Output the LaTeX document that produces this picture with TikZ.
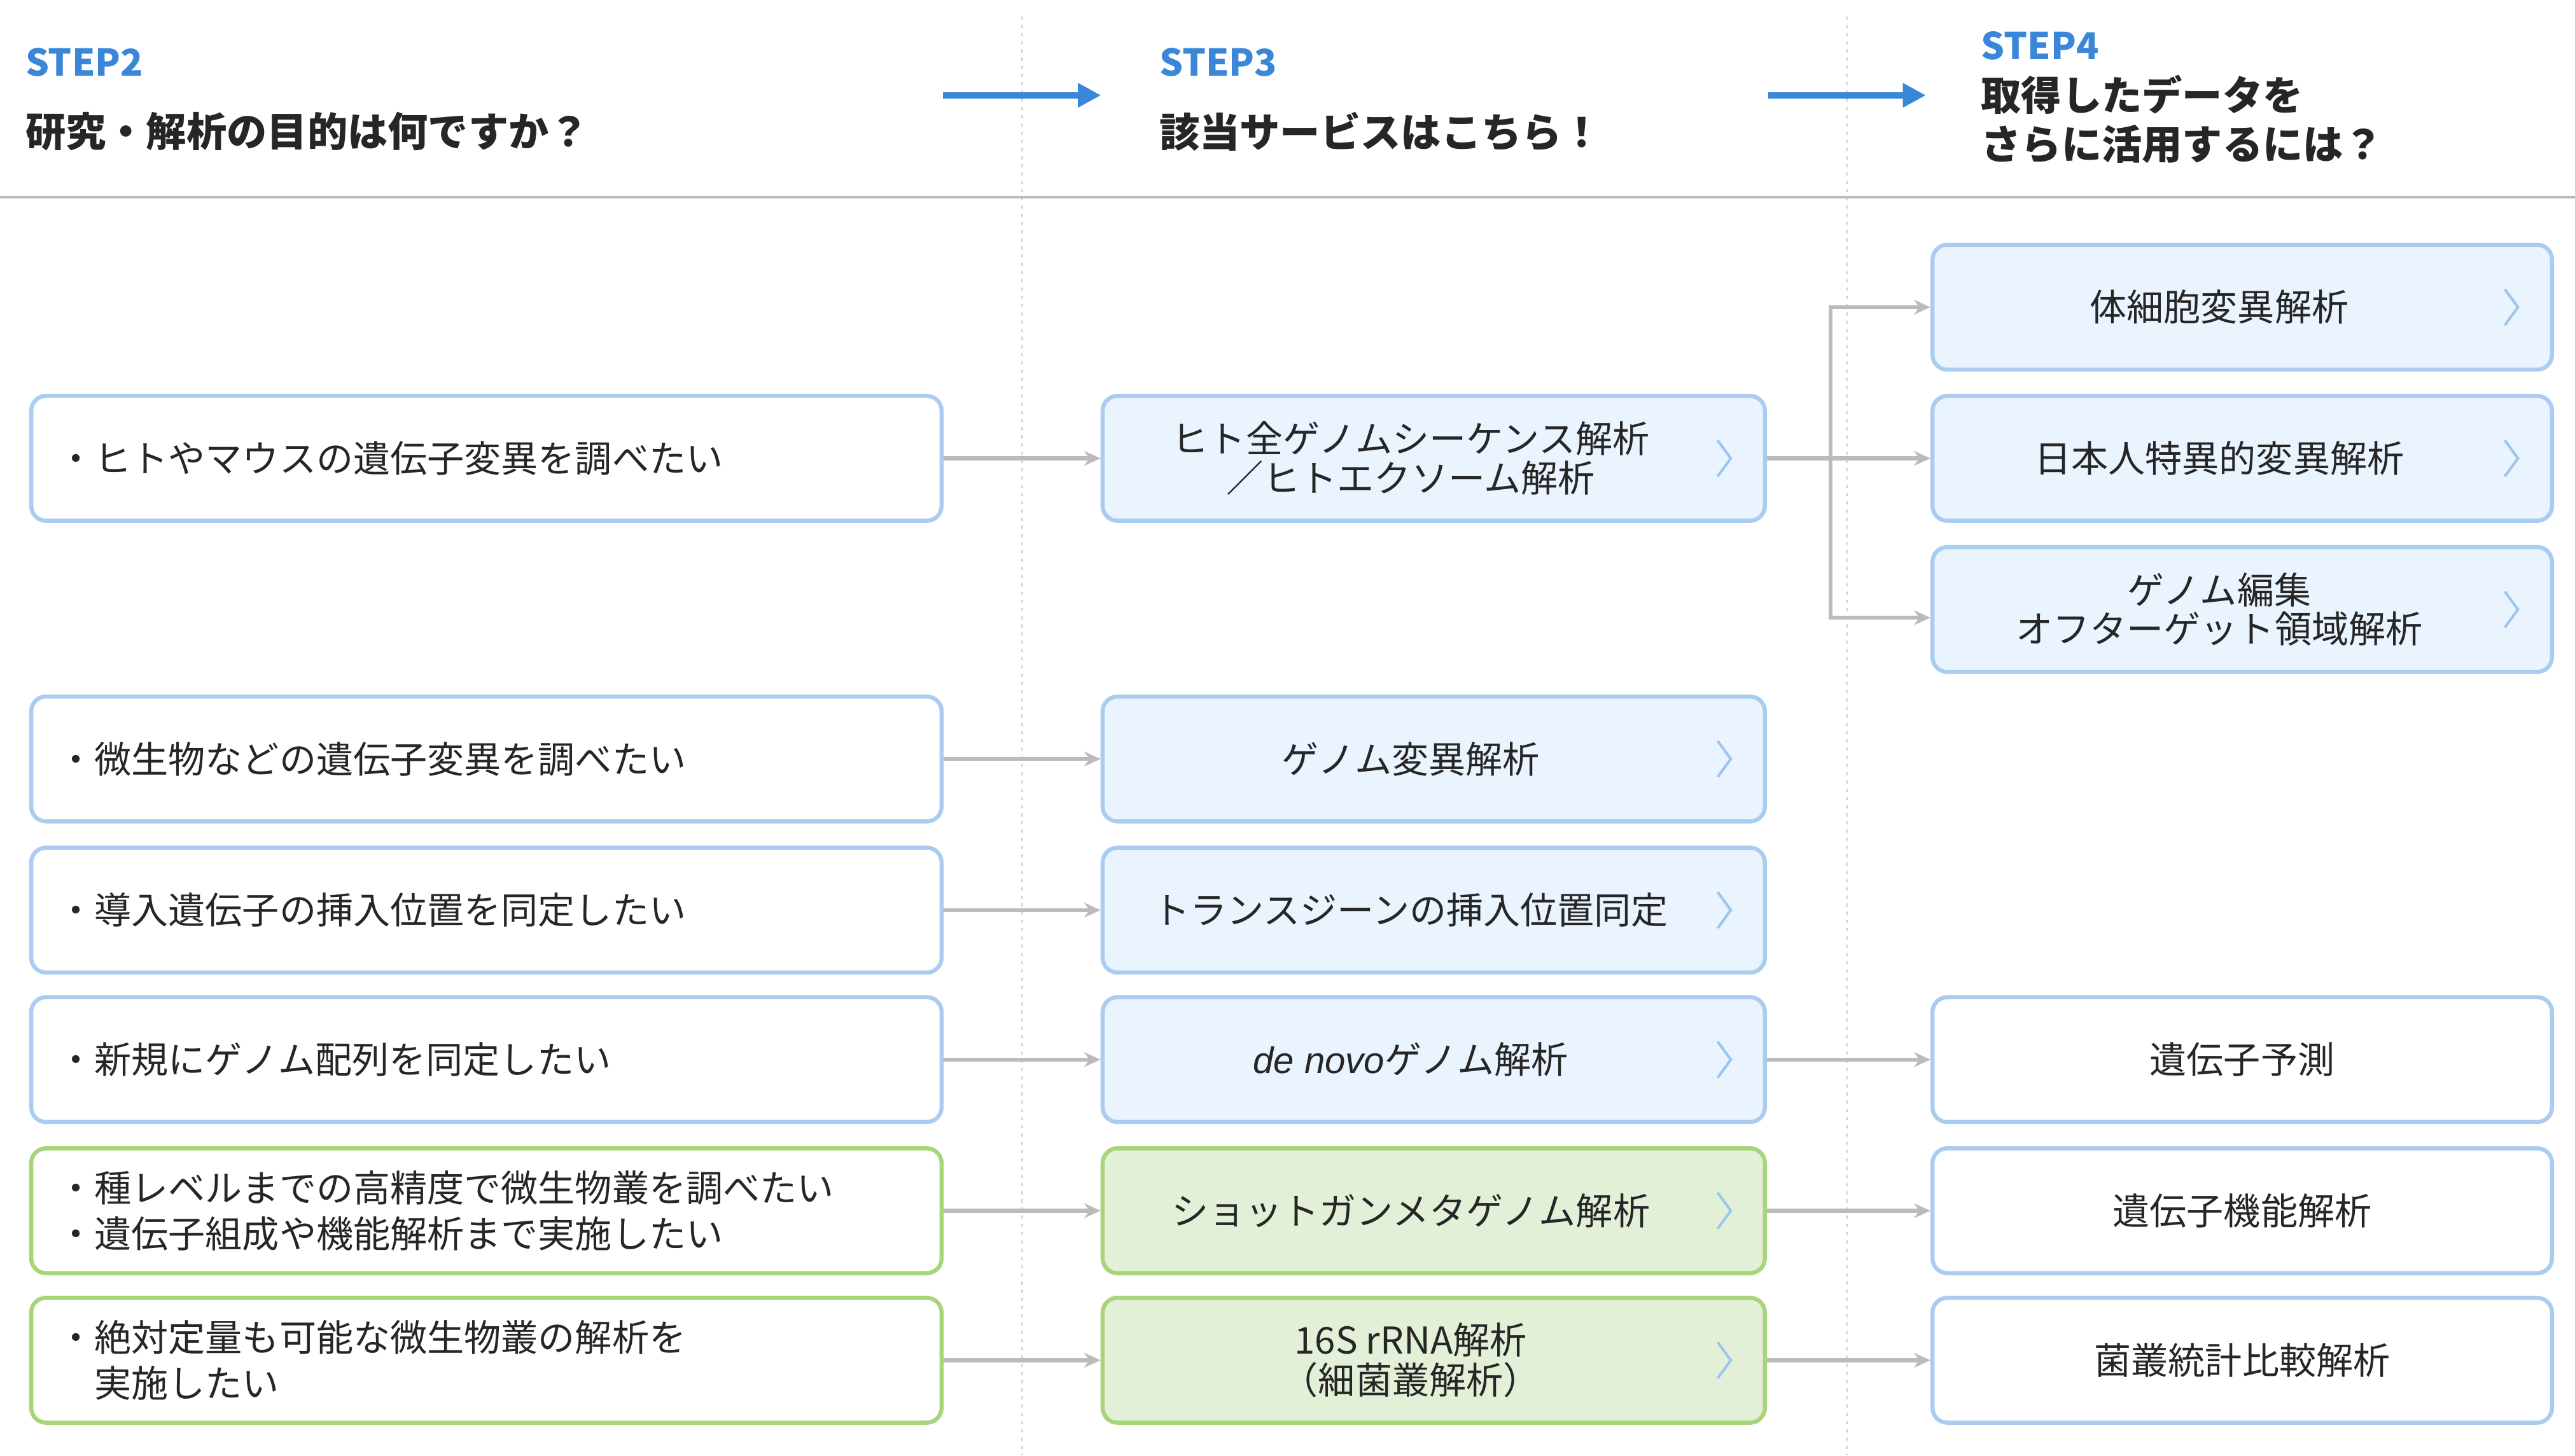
\documentclass[tikz,border=0pt]{standalone}
\usepackage{fontspec}
\setmainfont{Noto Sans CJK JP}
\newfontfamily\latinit{Liberation Sans}
\usetikzlibrary{arrows.meta,calc}
\definecolor{bluebd}{HTML}{A9CCF0}
\definecolor{bluefill}{HTML}{EAF4FE}
\definecolor{greenbd}{HTML}{A8D47A}
\definecolor{greenfill}{HTML}{E3F0D8}
\definecolor{stepblue}{HTML}{3A86D8}
\definecolor{conn}{HTML}{BBBBBB}
\definecolor{chev}{HTML}{9EC5EC}
\begin{document}
\begin{tikzpicture}[x=1pt,y=-1pt,
  every node/.style={font=\fontsize{22.5}{28}\selectfont, text=black!85},
  box/.style={draw, rounded corners=9pt, line width=2.5pt, minimum height=76pt, align=center, inner sep=0pt},
  lbox/.style={box, draw=bluebd, fill=white, minimum width=554pt, text width=522pt, align=left},
  lgbox/.style={lbox, draw=greenbd},
  mbox/.style={box, draw=bluebd, fill=bluefill, minimum width=403pt},
  mgbox/.style={box, draw=greenbd, fill=greenfill, minimum width=403pt},
  rbox/.style={box, draw=bluebd, fill=bluefill, minimum width=377pt},
  rwbox/.style={box, draw=bluebd, fill=white, minimum width=377pt},
  conn/.style={draw=conn, line width=2.5pt, -{Stealth[length=10pt,width=9pt]}},
  chevron/.style={draw=chev, line width=1.6pt},
  hdr/.style={anchor=west, font=\fontsize{24.5}{30}\selectfont\bfseries},
  steplbl/.style={hdr, text=stepblue, font=\fontsize{22.5}{28}\selectfont\bfseries},
  bigarrow/.style={draw=stepblue, line width=4pt, -{Triangle[length=14pt,width=14pt]}}
]
\useasboundingbox (0,0) rectangle (1567,886);
% dotted columns
\draw[gray!30, line width=1.2pt, dash pattern=on 2pt off 3pt] (622,10) -- (622,886);
\draw[gray!30, line width=1.2pt, dash pattern=on 2pt off 3pt] (1124,10) -- (1124,886);
\draw[gray!55, line width=1.5pt] (0,120) -- (1567,120);
% header
\node[steplbl] (s2) at (12,38) {STEP2};
\node[hdr] (h2) at (12,80) {研究・解析の目的は何ですか？};
\node[steplbl] (s3) at (702,38) {STEP3};
\node[hdr] (h3) at (702,80) {該当サービスはこちら！};
\node[steplbl] (s4) at (1202,28) {STEP4};
\node[hdr, align=left, anchor=north west] (h4) at (1202,42) {取得したデータを\\さらに活用するには？};
\coordinate (a1s) at (574,58); \coordinate (a1e) at (670,58);
\coordinate (a2s) at (1076,58); \coordinate (a2e) at (1172,58);
\draw[bigarrow] (a1s) -- (a1e);
\draw[bigarrow] (a2s) -- (a2e);
% left
\node[lbox] (l1) at (296,279) {・ヒトやマウスの遺伝子変異を調べたい};
\node[lbox] (l2) at (296,462) {・微生物などの遺伝子変異を調べたい};
\node[lbox] (l3) at (296,554) {・導入遺伝子の挿入位置を同定したい};
\node[lbox] (l4) at (296,645) {・新規にゲノム配列を同定したい};
\node[lgbox] (l5) at (296,737) {・種レベルまでの高精度で微生物叢を調べたい\\・遺伝子組成や機能解析まで実施したい};
\node[lgbox] (l6) at (296,828) {・絶対定量も可能な微生物叢の解析を\\\hspace*{1em}実施したい};
% middle
\node[mbox] (m1) at (872.5,279) {\hspace*{-28pt}\shortstack{ヒト全ゲノムシーケンス解析\\／ヒトエクソーム解析}};
\node[mbox] (m2) at (872.5,462) {\hspace*{-28pt}ゲノム変異解析};
\node[mbox] (m3) at (872.5,554) {\hspace*{-28pt}トランスジーンの挿入位置同定};
\node[mbox] (m4) at (872.5,645) {\hspace*{-28pt}{\latinit\itshape de novo}ゲノム解析};
\node[mgbox] (m5) at (872.5,737) {\hspace*{-28pt}ショットガンメタゲノム解析};
\node[mgbox] (m6) at (872.5,828) {\hspace*{-28pt}\shortstack{16S rRNA解析\\（細菌叢解析）}};
% right
\node[rbox] (r1) at (1364.5,187) {\hspace*{-28pt}体細胞変異解析};
\node[rbox] (r2) at (1364.5,279) {\hspace*{-28pt}日本人特異的変異解析};
\node[rbox] (r3) at (1364.5,371) {\hspace*{-28pt}\shortstack{ゲノム編集\\オフターゲット領域解析}};
\node[rwbox] (r4) at (1364.5,645) {遺伝子予測};
\node[rwbox] (r5) at (1364.5,737) {遺伝子機能解析};
\node[rwbox] (r6) at (1364.5,828) {菌叢統計比較解析};
% chevrons
\foreach \n in {m1,m2,m3,m4,m5,m6,r1,r2,r3}
  \draw[chevron] ([shift={(-30,-11)}]\n.east) -- ++(8,11) -- ++(-8,11);
% connectors
\foreach \i in {1,...,6}
  \draw[conn] (l\i.east) -- (m\i.west);
\coordinate (br) at (1114,279);
\draw[draw=conn, line width=2.5pt] (m1.east) -- (br);
\draw[conn] (br) |- (r1.west);
\draw[conn] (br) -- (r2.west);
\draw[conn] (br) |- ([yshift=-5pt]r3.west);
\draw[conn] (m4.east) -- (r4.west);
\draw[conn] (m5.east) -- (r5.west);
\draw[conn] (m6.east) -- (r6.west);
\end{tikzpicture}
\end{document}
